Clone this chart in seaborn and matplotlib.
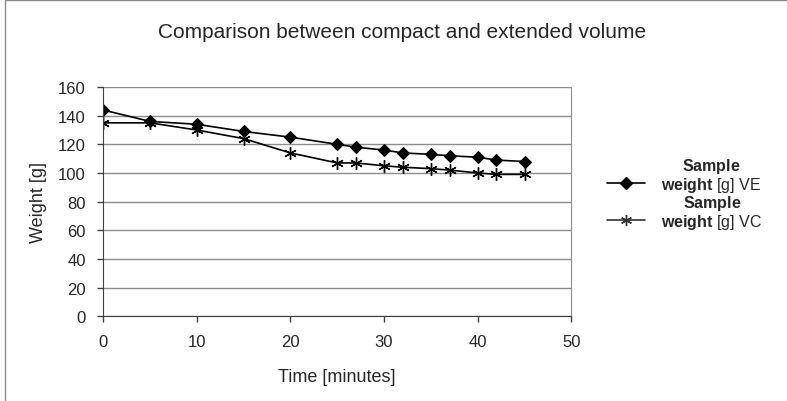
"""
Sample weight over time for compact (VC) and extended (VE) volume.
"""

import numpy as np
import pandas as pd
import matplotlib.pyplot as plt
from matplotlib.lines import Line2D
import seaborn as sns

# data
time_min = [0, 5, 10, 15, 20, 25, 27, 30, 32, 35, 37, 40, 42, 45]
weight_ve = [144, 136, 134, 129, 125, 120, 118, 116, 114, 113, 112, 111, 109, 108]
weight_vc = [135, 135, 130, 124, 114, 107, 107, 105, 104, 103, 102, 100, 99, 99]

label_ve = "$\\mathbf{Sample}$\n$\\mathbf{weight}$ [g] VE\n "
label_vc = "$\\mathbf{Sample}$\n$\\mathbf{weight}$ [g] VC\n "

x_ticks = np.arange(0, 51, 10)
y_ticks = np.arange(0, 161, 20)


def main():
    sns.set_style("white")
    plt.rcParams['font.family'] = ['Liberation Sans', 'DejaVu Sans']
    plt.rcParams['mathtext.fontset'] = 'custom'
    plt.rcParams['mathtext.rm'] = 'Liberation Sans'
    plt.rcParams['mathtext.bf'] = 'Liberation Sans:bold'

    df = pd.DataFrame({'time': time_min, 've': weight_ve, 'vc': weight_vc})

    fig = plt.figure(figsize=(7.87, 4.02), dpi=100)
    ax = fig.add_axes([0.131, 0.211, 0.595, 0.570])

    sns.lineplot(data=df, x='time', y='ve', color='k', lw=1.2, marker='D',
                 ms=6, mfc='k', mec='k', ax=ax)
    sns.lineplot(data=df, x='time', y='vc', color='k', lw=1.2, marker=(6, 2, 0),
                 ms=9, mec='k', mew=1.0, ax=ax)

    ax.set_xlim(0, 50)
    ax.set_ylim(0, 160)
    ax.set_xticks(x_ticks)
    ax.set_yticks(y_ticks)
    ax.tick_params(axis='both', direction='out', length=4.5, width=1, color='#404040',
                   labelsize=12, pad=8, left=True, bottom=True)
    ax.yaxis.grid(True, color='#8c8c8c', lw=1)
    ax.set_axisbelow(True)
    for side in ['left', 'bottom']:
        ax.spines[side].set_color('#404040')
    ax.spines['right'].set_color('#8c8c8c')
    ax.spines['top'].set_visible(False)

    ax.set_xlabel('Time [minutes]', fontsize=13)
    ax.set_ylabel('Weight [g]', fontsize=13)
    ax.xaxis.set_label_coords(0.5, -0.225)
    ax.yaxis.set_label_coords(-0.12, 0.5)

    fig.text(0.511, 0.918, 'Comparison between compact and extended volume',
             ha='center', va='center', fontsize=15)

    handles = [Line2D([], [], color='k', lw=1.2, marker='D', ms=6),
               Line2D([], [], color='#333333', lw=1.2, marker=(6, 2, 0), ms=8, mew=1.0)]
    leg = fig.legend(handles, [label_ve, label_vc], loc='center left',
                     bbox_to_anchor=(0.753, 0.4975), frameon=False, fontsize=11.5,
                     handlelength=2.4, handletextpad=1.0, labelspacing=-0.95)
    for t in leg.get_texts():
        t.set_multialignment('center')
        t.set_linespacing(1.0)

    # outer chart frame
    fig.add_artist(Line2D([0.006, 0.006], [0, 0.998], transform=fig.transFigure,
                          color='#8c8c8c', lw=1))
    fig.add_artist(Line2D([0.006, 1], [0.998, 0.998], transform=fig.transFigure,
                          color='#8c8c8c', lw=1))

    fig.savefig('out.png', dpi=100)


if __name__ == '__main__':
    main()
